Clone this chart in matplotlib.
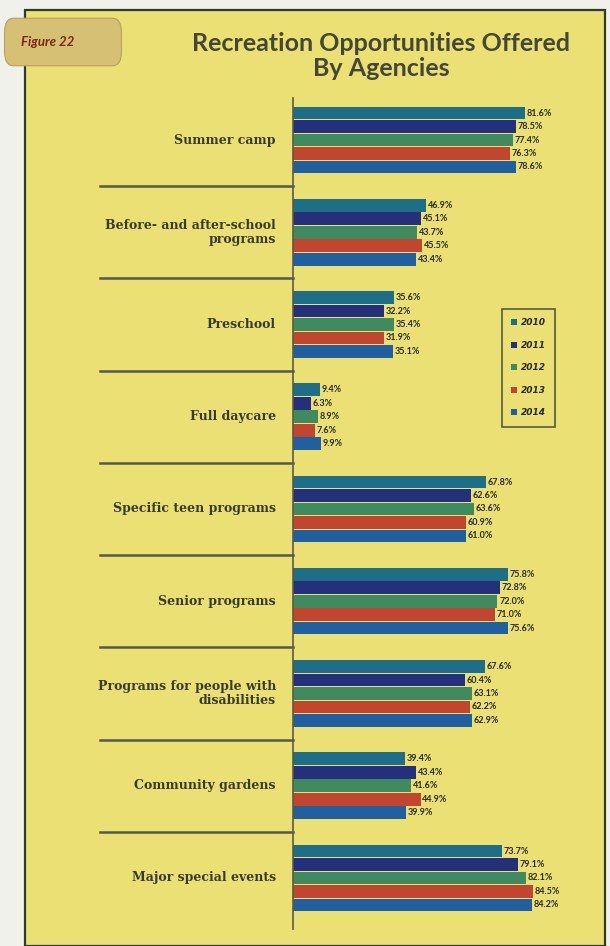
import numpy as np
import matplotlib.pyplot as plt
import matplotlib.patches as mpatches
import matplotlib.transforms as mtransforms
from matplotlib.lines import Line2D

# categories (top to bottom) and yearly shares (%)
categories = ['Summer camp', 'Before- and after-school\nprograms', 'Preschool',
              'Full daycare', 'Specific teen programs', 'Senior programs',
              'Programs for people with\ndisabilities', 'Community gardens',
              'Major special events']
years = ['2010', '2011', '2012', '2013', '2014']
v2010 = [81.6, 46.9, 35.6, 9.4, 67.8, 75.8, 67.6, 39.4, 73.7]
v2011 = [78.5, 45.1, 32.2, 6.3, 62.6, 72.8, 60.4, 43.4, 79.1]
v2012 = [77.4, 43.7, 35.4, 8.9, 63.6, 72.0, 63.1, 41.6, 82.1]
v2013 = [76.3, 45.5, 31.9, 7.6, 60.9, 71.0, 62.2, 44.9, 84.5]
v2014 = [78.6, 43.4, 35.1, 9.9, 61.0, 75.6, 62.9, 39.9, 84.2]
colors = ['#1d6e86', '#24307c', '#3f8a5e', '#c2452f', '#2160a0']

W, H = 610, 946
fig = plt.figure(figsize=(W / 100, H / 100), dpi=100)
fig.patch.set_facecolor('#f1f1ec')

# yellow panel with dark frame
panel = mpatches.Rectangle((25 / W, 0), 580 / W, 1 - 10 / H, transform=fig.transFigure,
                           facecolor='#eae074', edgecolor='#2e3a2c', linewidth=1.6, zorder=-2)
fig.patches.append(panel)

# "Figure 22" tag
tag = mpatches.FancyBboxPatch((7 / W, 1 - 62 / H), 112 / W, 40 / H,
                              boxstyle='round,pad=0.004,rounding_size=0.015',
                              transform=fig.transFigure, facecolor='#d6c074',
                              edgecolor='#b8a060', linewidth=0.8, zorder=-1)
fig.patches.append(tag)
fig.text(48 / W, 1 - 42 / H, 'Figure 22', fontsize=9.5, fontweight='bold', style='italic',
         color='#7a2a12', ha='center', va='center', family='Lato')

fig.text(381 / W, 1 - 56 / H, 'Recreation Opportunities Offered\nBy Agencies',
         fontsize=18, fontweight='bold', color='#444735', ha='center', va='center',
         family='Lato', linespacing=1.15)

# bar axes
y_top, y_bot = 98.5, 928.7
x_left, x_right = 293, 600
ax = fig.add_axes([x_left / W, 1 - y_bot / H, (x_right - x_left) / W, (y_bot - y_top) / H])
ax.set_facecolor('none')
ax.set_xlim(0, (x_right - x_left) / 2.84)
ax.set_ylim(8.55, -0.45)

series = [v2010, v2011, v2012, v2013, v2014]
bh = 0.146
idx = np.arange(len(categories))
for k, (vals, c, yr) in enumerate(zip(series, colors, years)):
    ypos = idx + (k - 2) * bh
    ax.barh(ypos, vals, height=bh * 0.94, color=c, label=yr, zorder=2)
    for y, v in zip(ypos, vals):
        ax.text(v + 0.6, y, f'{v:.1f}%', fontsize=6.5, fontweight='bold', color='#2a2a22',
                va='center', ha='left', family='Lato')

for s in ['top', 'right', 'bottom']:
    ax.spines[s].set_visible(False)
ax.spines['left'].set_color('#5a5a4a')
ax.spines['left'].set_linewidth(1.2)
ax.set_xticks([])
ax.set_yticks([])

# category labels and separators to the left of the axis
trans = mtransforms.blended_transform_factory(fig.transFigure, ax.transData)
for i, name in enumerate(categories):
    ax.text(276 / W, i, name, transform=trans, fontsize=9, fontweight='bold',
            color='#3a3a2c', ha='right', va='center', family='DejaVu Serif', linespacing=1.1)
for i in range(len(categories) - 1):
    ax.add_line(Line2D([100 / W, x_left / W], [i + 0.5, i + 0.5], transform=trans,
                       color='#55584a', linewidth=1.8, clip_on=False))

leg = ax.legend(loc='upper left', bbox_to_anchor=((505 - x_left) / (x_right - x_left), 1 - (312 - y_top) / (y_bot - y_top)),
                fontsize=6.5, frameon=True, handlelength=0.6, handleheight=0.6,
                labelspacing=1.5, borderpad=0.7, handletextpad=0.5, borderaxespad=0)
leg.get_frame().set_facecolor('#eae074')
leg.get_frame().set_edgecolor('#2e3a2c')
leg.get_frame().set_linewidth(1.2)
leg.get_frame().set_boxstyle('square')
for t in leg.get_texts():
    t.set_fontweight('bold')
    t.set_fontstyle('italic')
    t.set_color('#2a2a22')

fig.savefig('out.png', dpi=100, facecolor=fig.get_facecolor())
